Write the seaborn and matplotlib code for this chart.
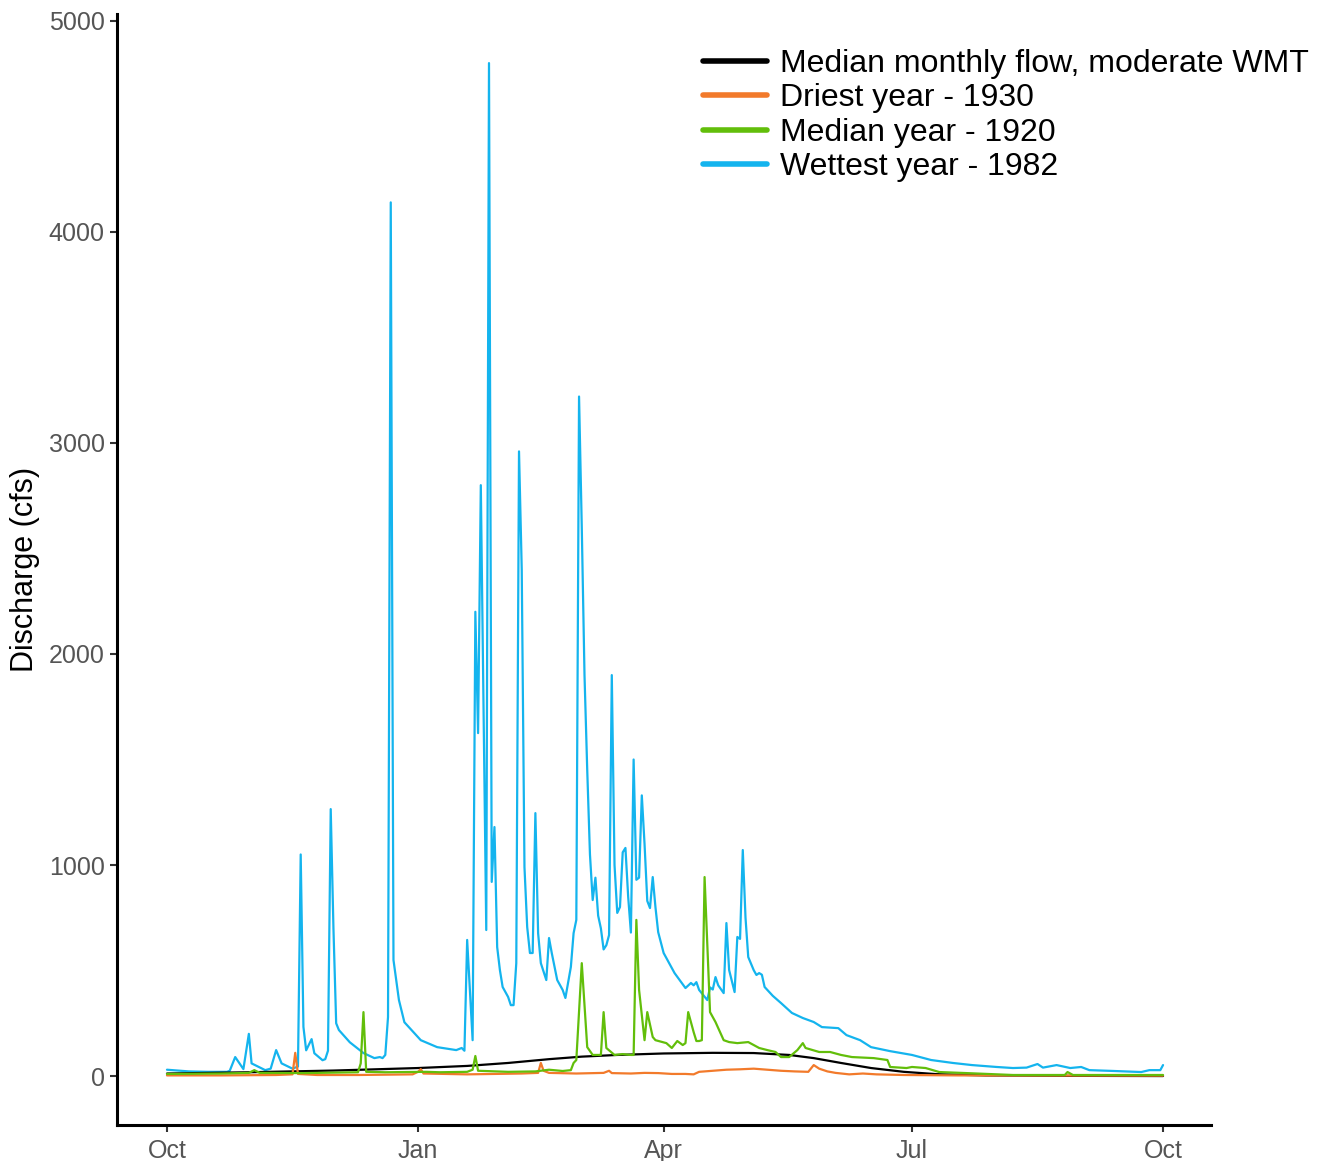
import pandas as pd
import numpy as np
import matplotlib.pyplot as plt
from matplotlib.lines import Line2D
import seaborn as sns

# water year starts 1 Oct; x values are days after that
start = pd.Timestamp("1981-10-01")

wet_label = "Wettest year - 1982"
wet_day = [0, 8, 15, 22, 23, 25, 28, 30, 31, 36, 38, 40, 42, 46, 48, 49, 50, 51, 53, 54,
           57, 58, 59, 60, 61, 62, 63, 67, 72, 76, 78, 79, 80, 81, 82, 83, 85, 87, 93, 99,
           106, 108, 109, 110, 112, 113, 114, 115, 117, 118, 119, 120, 121, 122, 123, 125,
           126, 127, 128, 129, 130, 131, 132, 133, 134, 135, 136, 137, 139, 140, 141, 143,
           145, 146, 148, 149, 150, 151, 152, 153, 154, 155, 156, 157, 158, 159, 160, 161,
           162, 163, 164, 165, 166, 167, 168, 169, 170, 171, 172, 173, 174, 175, 176, 177,
           178, 179, 180, 182, 186, 190, 192, 193, 194, 195, 198, 199, 200, 201, 202, 204,
           205, 206, 208, 209, 210, 211, 212, 213, 215, 216, 217, 218, 219, 222, 225, 229,
           233, 237, 240, 246, 249, 254, 258, 265, 273, 280, 288, 295, 304, 310, 315, 319,
           321, 326, 331, 335, 338, 347, 357, 360, 364, 365]
wet_flow = [30, 22, 20, 20, 25, 90, 33, 200, 60, 28, 35, 123, 60, 35, 45, 1050, 233, 122, 175, 108,
            75, 80, 120, 1265, 700, 250, 218, 160, 109, 85, 90, 85, 100, 280, 4140, 550, 360, 255, 170, 137,
            123, 133, 120, 645, 170, 2200, 1625, 2800, 692, 4800, 920, 1180, 611, 502, 422, 375,
            336, 336, 535, 2960, 2400, 990, 706, 583, 583, 1246, 677, 535, 455, 654, 583, 455,
            408, 370, 517, 677, 740, 3220, 2600, 1900, 1450, 1050, 834, 940, 760, 700, 600, 620,
            668, 1900, 1000, 773, 801, 1060, 1081, 850, 680, 1500, 930, 940, 1330, 1100, 830, 796,
            943, 800, 682, 583, 488, 417, 441, 430, 445, 408, 360, 420, 410, 469, 430, 393,
            725, 502, 398, 659, 650, 1071, 750, 564, 502, 479, 488, 480, 422, 380, 346, 299,
            275, 256, 232, 227, 194, 170, 137, 118, 100, 76, 62, 52, 43, 38, 40, 57,
            40, 52, 38, 43, 28, 24, 19, 28, 28, 52]

med_label = "Median year - 1920"
med_day = [0, 20, 30, 32, 34, 50, 60, 70, 71, 72, 73, 80, 95, 100, 110, 112, 113, 114, 125, 135,
           140, 145, 148, 149, 150, 152, 154, 156, 159, 160, 161, 164, 167, 170, 171, 172, 173, 175, 176, 178,
           179, 183, 185, 187, 189, 190, 191, 193, 194, 195, 196, 197, 199, 201, 204, 206, 209, 213, 217, 220,
           223, 225, 228, 231, 233, 234, 239, 243, 247, 251, 259, 264, 265, 271, 273, 278, 283, 293, 310, 329,
           330, 332, 365]
med_flow = [10, 12, 15, 28, 15, 14, 16, 18, 60, 303, 20, 18, 20, 18, 20, 30, 95, 25, 20, 22,
            30, 24, 28, 62, 76, 535, 137, 100, 100, 303, 133, 100, 104, 100, 100, 740, 408, 170, 303, 185,
            170, 156, 133, 166, 147, 156, 303, 208, 166, 166, 170, 943, 303, 256, 170, 161, 156, 161, 133, 123,
            114, 90, 90, 123, 156, 133, 114, 114, 100, 90, 85, 76, 43, 38, 43, 38, 19, 14, 5, 5,
            19, 5, 5]

dry_label = "Driest year - 1930"
dry_day = [0, 20, 40, 46, 47, 48, 55, 70, 90, 92, 93, 94, 110, 120, 130, 136, 137, 138, 140, 150,
           160, 162, 163, 170, 175, 180, 185, 190, 193, 195, 200, 205, 210, 215, 220, 225, 230, 235, 237, 239,
           242, 245, 250, 255, 260, 270, 290, 365]
dry_flow = [3, 3, 5, 8, 110, 10, 5, 5, 8, 20, 33, 12, 8, 10, 12, 15, 62, 25, 15, 12,
            15, 25, 14, 12, 15, 14, 10, 10, 8, 20, 25, 30, 32, 35, 30, 25, 22, 20, 52, 35,
            22, 15, 8, 12, 8, 5, 3, 2]

wmt_label = "Median monthly flow, moderate WMT"
wmt_day = [0, 30, 61, 92, 110, 125, 140, 152, 165, 182, 200, 215, 228, 237, 247, 258, 270, 282, 300, 330, 365]
wmt_flow = [12, 18, 26, 38, 48, 62, 80, 92, 100, 107, 110, 109, 100, 85, 62, 38, 20, 9, 3, 1, 0]

colors = {wmt_label: "black", dry_label: "#F27A2B", med_label: "#62BE0A", wet_label: "#14B4EE"}
legend_order = [wmt_label, dry_label, med_label, wet_label]
draw_order = [wet_label, wmt_label, dry_label, med_label]

frames = []
for name, d, v in [(wet_label, wet_day, wet_flow), (med_label, med_day, med_flow),
                   (dry_label, dry_day, dry_flow), (wmt_label, wmt_day, wmt_flow)]:
    frames.append(pd.DataFrame({"date": start + pd.to_timedelta(d, unit="D"),
                                "flow": v, "series": name}))
df = pd.concat(frames, ignore_index=True)

sns.set_style("ticks")
plt.rcParams["font.family"] = ["Liberation Sans", "DejaVu Sans"]

fig = plt.figure(figsize=(13.24, 11.61), dpi=100)
ax = fig.add_axes([0.0884, 0.031, 0.8263, 0.957])

sns.lineplot(data=df, x="date", y="flow", hue="series", hue_order=draw_order,
             palette=colors, estimator=None, sort=True, linewidth=1.6, legend=False, ax=ax)

ax.set_xlim(start - pd.Timedelta(days=18.3), start + pd.Timedelta(days=382.6))
ax.set_ylim(-232, 5033)
ticks = pd.to_datetime(["1981-10-01", "1982-01-01", "1982-04-01", "1982-07-01", "1982-10-01"])
ax.set_xticks(ticks)
ax.set_xticklabels(["Oct", "Jan", "Apr", "Jul", "Oct"])
ax.set_yticks([0, 1000, 2000, 3000, 4000, 5000])
ax.set_xlabel("")
ax.set_ylabel("Discharge (cfs)", fontsize=22, labelpad=6, color="black")

sns.despine(ax=ax)
for s in ["left", "bottom"]:
    ax.spines[s].set_linewidth(2.2)
    ax.spines[s].set_color("black")
ax.tick_params(direction="out", length=5, width=1.5, color="#333333",
               labelcolor="#555555", labelsize=18)
ax.tick_params(axis="x", pad=5)
ax.tick_params(axis="y", pad=4)

handles = [Line2D([0], [0], color=colors[n], lw=4) for n in legend_order]
leg = ax.legend(handles, legend_order, loc="upper left", bbox_to_anchor=(0.531, 0.958),
                bbox_transform=fig.transFigure, frameon=False, fontsize=23,
                handlelength=2.0, handletextpad=0.4, labelspacing=0.14, borderpad=0,
                borderaxespad=0)
for t in leg.get_texts():
    t.set_color("black")

plt.savefig("out.png", dpi=100)
